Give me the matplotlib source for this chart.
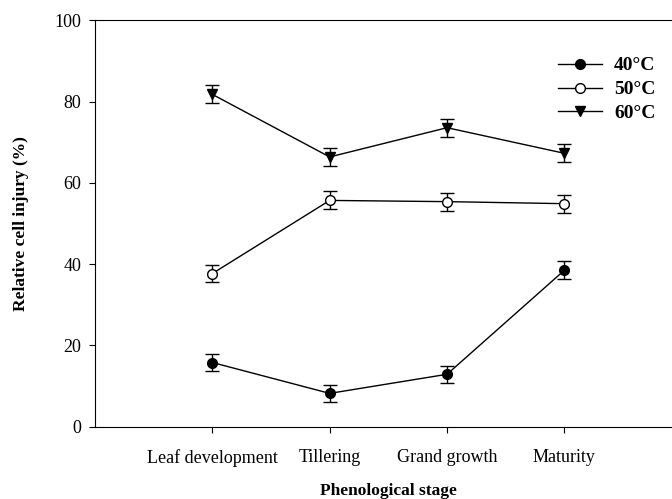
import matplotlib.pyplot as plt
import numpy as np

# phenological stages on the x axis
stages = ['Leaf development', 'Tillering', 'Grand growth', 'Maturity']

# relative cell injury (%) and standard errors per temperature
injury_40 = [15.8, 8.2, 12.9, 38.5]
injury_50 = [37.7, 55.7, 55.4, 54.9]
injury_60 = [81.8, 66.4, 73.6, 67.3]
err_40 = [2.2, 2.1, 2.1, 2.2]
err_50 = [2.2, 2.2, 2.2, 2.2]
err_60 = [2.2, 2.2, 2.2, 2.2]

plt.rcParams['font.family'] = ['Liberation Serif', 'DejaVu Serif']

fig = plt.figure(figsize=(6.72, 4.99), dpi=100)
ax = fig.add_axes([0.1414, 0.1449, 0.873, 0.8141])

x = np.arange(1, len(stages) + 1)
style = dict(color='black', linewidth=1.0, markersize=7, capsize=5,
             elinewidth=1.0, capthick=1.0, markeredgewidth=1.0)
ax.errorbar(x, injury_40, yerr=err_40, marker='o', mfc='black', label='40°C', **style)
ax.errorbar(x, injury_50, yerr=err_50, marker='o', mfc='white', label='50°C', **style)
ax.errorbar(x, injury_60, yerr=err_60, marker='v', mfc='black', label='60°C', **style)

ax.set_xlim(0, 5)
ax.set_ylim(0, 100)
ax.set_xticks(x)
ax.set_xticklabels(stages)
ax.set_yticks(np.arange(0, 101, 20))
ax.tick_params(direction='out', length=4, labelsize=13, pad=6)
ax.tick_params(axis='x', pad=12)

ax.set_xlabel('Phenological stage', fontsize=12.5, fontweight='bold', labelpad=12)
ax.set_ylabel('Relative cell injury (%)', fontsize=12.5, fontweight='bold', labelpad=18)

handles, labels = ax.get_legend_handles_labels()
handles = [h[0] for h in handles]
ax.legend(handles, labels, loc='upper left', bbox_to_anchor=(0.83, 0.886),
          bbox_transform=fig.transFigure, frameon=False, handlelength=2.3,
          handletextpad=0.6, labelspacing=0.32, borderpad=0, borderaxespad=0,
          prop={'weight': 'bold', 'size': 14})

fig.savefig('out.png', dpi=100)
